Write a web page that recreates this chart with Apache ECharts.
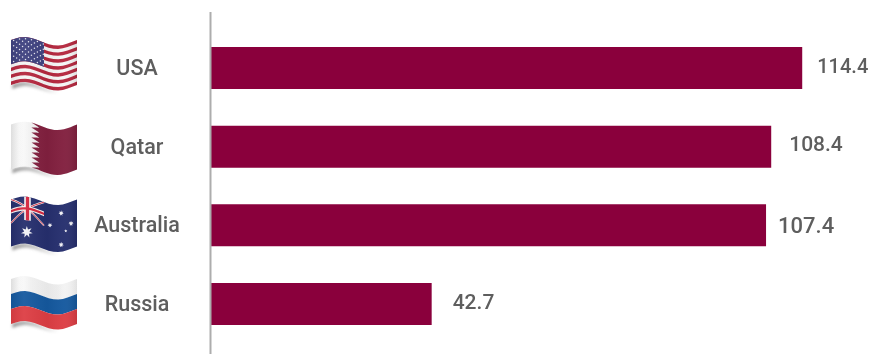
<!DOCTYPE html>
<html>
<head>
<meta charset="utf-8">
<style>html,body{margin:0;padding:0;background:#fff}#chart{width:870px;height:354px}</style>
<script src="https://cdn.jsdelivr.net/npm/echarts@6/dist/echarts.min.js"></script>
</head>
<body>
<div id="chart"></div>
<script>
// Chart data
const categories = ['USA', 'Qatar', 'Australia', 'Russia'];
const values = [114.4, 108.4, 107.4, 42.7];

// ---- Waving flag icons, generated as small inline SVGs ----
const FW = 66, PAD = 5;
function ripple(u) { return 3.8 - 4.2 * Math.cos(2 * Math.PI * (u - 0.2)); }
function mapper(h) {
  return (u, v) => [PAD + FW * u, PAD + ripple(u) + v * h];
}
function warpPoly(map, pts, fill, extra) {
  const out = [];
  pts.forEach((p, i) => {
    const q = pts[(i + 1) % pts.length];
    for (let k = 0; k < 14; k++) {
      const t = k / 14;
      out.push(map(p[0] + (q[0] - p[0]) * t, p[1] + (q[1] - p[1]) * t));
    }
  });
  return `<polygon points="${out.map(a => a[0].toFixed(2) + ',' + a[1].toFixed(2)).join(' ')}" fill="${fill}" ${extra || ''}/>`;
}
function rect(map, u0, v0, u1, v1, fill, extra) {
  return warpPoly(map, [[u0, v0], [u1, v0], [u1, v1], [u0, v1]], fill, extra);
}
function band(map, a, b, w, fill) {
  // Thick straight stroke in flag space, used for the Union Jack arms
  const dx = b[0] - a[0], dy = b[1] - a[1];
  const px = -dy * 0.66, py = dx;
  const l = Math.hypot(px * 66, py * 45);
  const nx = px * w / l, ny = py * w / l;
  return warpPoly(map, [[a[0] + nx, a[1] + ny], [b[0] + nx, b[1] + ny], [b[0] - nx, b[1] - ny], [a[0] - nx, a[1] - ny]], fill);
}
function star(map, u, v, r, points) {
  const c = map(u, v), pts = [];
  for (let i = 0; i < points * 2; i++) {
    const a = -Math.PI / 2 + i * Math.PI / points;
    const rr = i % 2 ? r * 0.45 : r;
    pts.push((c[0] + rr * Math.cos(a)).toFixed(2) + ',' + (c[1] + rr * Math.sin(a)).toFixed(2));
  }
  return `<polygon points="${pts.join(' ')}" fill="#f2f2f6"/>`;
}
function shadow(map) {
  const top = [];
  for (let i = 0; i <= 16; i++) top.push(map(0.02 + 0.7 * i / 16, 1));
  const low = top.slice().reverse().map((p, i) => [p[0], p[1] + 4.5 - (16 - i) * 0.12]);
  return `<polygon points="${top.concat(low).map(a => a.join(',')).join(' ')}" fill="url(#sh)" filter="url(#bl)"/>`;
}
function defs() {
  return `<defs>
  <filter id="bl" x="-20%" y="-80%" width="140%" height="260%"><feGaussianBlur stdDeviation="1.6"/></filter>
  <linearGradient id="sh" x1="0" x2="1" y1="0" y2="0"><stop offset="0" stop-color="#9a9a9a"/><stop offset="0.5" stop-color="#bdbdbd"/><stop offset="1" stop-color="#fff"/></linearGradient>
  <linearGradient id="fold" x1="0" x2="1" y1="0" y2="0">
    <stop offset="0" stop-color="#000" stop-opacity="0.06"/><stop offset="0.2" stop-color="#fff" stop-opacity="0.05"/>
    <stop offset="0.55" stop-color="#000" stop-opacity="0.04"/><stop offset="0.8" stop-color="#fff" stop-opacity="0.03"/>
    <stop offset="1" stop-color="#000" stop-opacity="0.1"/></linearGradient>
  <linearGradient id="paper" x1="0" x2="1" y1="0" y2="0">
    <stop offset="0" stop-color="#ececec"/><stop offset="0.12" stop-color="#fbfbfb"/><stop offset="0.3" stop-color="#f3f3f3"/>
    <stop offset="0.7" stop-color="#efefef"/><stop offset="1" stop-color="#fafafa"/></linearGradient>
</defs>`;
}
function wrap(body, h) {
  return 'data:image/svg+xml;charset=utf-8,' + encodeURIComponent(
    `<svg xmlns="http://www.w3.org/2000/svg" width="${FW + PAD * 2}" height="${h + 22}" viewBox="0 0 ${FW + PAD * 2} ${h + 22}">${defs()}${body}</svg>`);
}
function usaFlag() {
  const h = 45, m = mapper(h);
  let s = shadow(m) + rect(m, 0, 0, 1, 1, '#f6f6f6');
  for (let i = 0; i < 13; i += 2) s += rect(m, 0, i / 13, 1, (i + 1) / 13, '#b5283f');
  s += rect(m, 0, 0, 0.5, 7 / 13, '#3f4280');
  for (let r = 0; r < 9; r++) {
    const n = r % 2 ? 5 : 6;
    for (let c = 0; c < n; c++) {
      const p = m((r % 2 ? 0.085 : 0.04) + c * 0.09, 0.035 + r * 0.058);
      s += `<circle cx="${p[0]}" cy="${p[1]}" r="0.75" fill="#e8e8f0"/>`;
    }
  }
  return wrap(s + rect(m, 0, 0, 1, 1, 'url(#fold)'), h);
}
function qatarFlag() {
  const h = 44.5, m = mapper(h);
  let s = shadow(m) + rect(m, 0, 0, 1, 1, 'url(#paper)');
  const pts = [[0.31, 0]];
  for (let i = 0; i < 9; i++) {
    pts.push([0.43, (i + 0.5) / 9]);
    pts.push([0.31, (i + 1) / 9]);
  }
  s += warpPoly(m, [[1, 1], [1, 0]].concat(pts), '#82203f');
  return wrap(s + rect(m, 0, 0, 1, 1, 'url(#fold)'), h);
}
function australiaFlag() {
  const h = 47, m = mapper(h);
  let s = shadow(m) + rect(m, 0, 0, 1, 1, '#262f6e');
  const mj = (u, v) => m(u * 0.5, v * 0.5);
  s += band(mj, [0, 0], [1, 1], 1.9, '#f4f4f4') + band(mj, [0, 1], [1, 0], 1.9, '#f4f4f4');
  s += band(mj, [0, 0], [1, 1], 0.7, '#d5263f') + band(mj, [0, 1], [1, 0], 0.7, '#d5263f');
  s += rect(m, 0, 0.2, 0.5, 0.3, '#f4f4f4') + rect(m, 0.2, 0, 0.3, 0.5, '#f4f4f4');
  s += rect(m, 0, 0.225, 0.5, 0.275, '#d5263f') + rect(m, 0.225, 0, 0.275, 0.5, '#d5263f');
  s += star(m, 0.24, 0.75, 6, 7) + star(m, 0.76, 0.18, 2.8, 7) + star(m, 0.59, 0.45, 2.6, 7);
  s += star(m, 0.91, 0.46, 2.8, 7) + star(m, 0.83, 0.58, 1.6, 5) + star(m, 0.76, 0.85, 2.8, 7);
  return wrap(s + rect(m, 0, 0, 1, 1, 'url(#fold)'), h);
}
function russiaFlag() {
  const h = 45, m = mapper(h);
  let s = shadow(m) + rect(m, 0, 0, 1, 1 / 3, 'url(#paper)');
  s += rect(m, 0, 1 / 3, 1, 2 / 3, '#15599f') + rect(m, 0, 2 / 3, 1, 1, '#dd3e44');
  return wrap(s + rect(m, 0, 0, 1, 1, 'url(#fold)'), h);
}

const flagImages = [usaFlag(), qatarFlag(), australiaFlag(), russiaFlag()];
const flagTops = [37.5, 122, 197, 276.5];

// Value labels are hand-spaced from the bar ends
const labelLook = [
  { distance: 15, offset: [0, 0], fontSize: 20 },
  { distance: 18, offset: [0, -1], fontSize: 21 },
  { distance: 12, offset: [0, 2], fontSize: 22 },
  { distance: 21, offset: [0, 0], fontSize: 21 }
];

const chart = echarts.init(document.getElementById('chart'), null, { renderer: 'canvas' });
chart.setOption({
  animation: false,
  backgroundColor: '#ffffff',
  grid: { left: 211, top: 28.7, width: 646, height: 314.6, containLabel: false },
  xAxis: { type: 'value', min: 0, max: 125, show: false },
  yAxis: {
    type: 'category',
    data: categories,
    inverse: true,
    axisLine: { show: false },
    axisTick: { show: false },
    axisLabel: {
      margin: 27,
      formatter: v => '{name|' + v + '}',
      rich: {
        name: {
          width: 94, align: 'center', color: '#5e5e5e',
          fontFamily: 'Roboto', fontWeight: 500, fontSize: 21.5, padding: [3, 0, 0, 0]
        }
      }
    }
  },
  series: [{
    type: 'bar',
    barWidth: 42,
    itemStyle: { color: '#8a003c' },
    data: values.map((value, i) => ({
      value,
      label: {
        show: true,
        position: 'right',
        distance: labelLook[i].distance,
        offset: labelLook[i].offset,
        color: '#5e5e5e',
        fontFamily: 'Roboto',
        fontWeight: 500,
        fontSize: labelLook[i].fontSize
      }
    }))
  }],
  graphic: [
    { type: 'line', z: 10, shape: { x1: 210.5, y1: 12, x2: 210.5, y2: 354 }, style: { stroke: '#adadad', lineWidth: 2 } }
  ].concat(flagImages.map((image, i) => ({
    type: 'image', left: 11 - PAD, top: flagTops[i] - PAD,
    style: { image, width: FW + PAD * 2, height: 67 + (i === 2 ? 2 : 0) }
  })))
});
</script>
</body>
</html>
